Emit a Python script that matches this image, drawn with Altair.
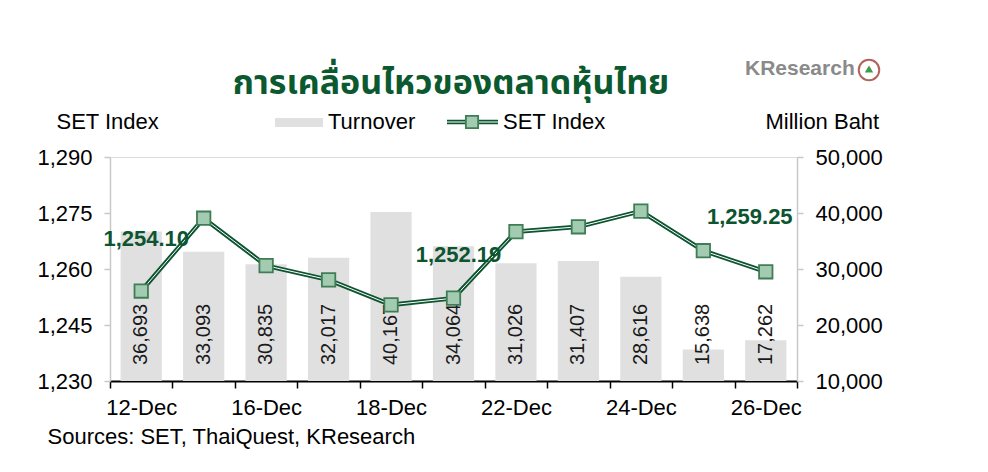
import altair as alt
import pandas as pd

# ---------------- data ----------------
dates = ["12-Dec", "13-Dec", "16-Dec", "17-Dec", "18-Dec", "19-Dec",
         "22-Dec", "23-Dec", "24-Dec", "25-Dec", "26-Dec"]
turnover = [36693, 33093, 30835, 32017, 40167, 34064, 31026, 31407, 28616, 15638, 17262]
set_index = [1254.10, 1273.6, 1260.9, 1257.1, 1250.4, 1252.19,
             1270.0, 1271.3, 1275.5, 1264.9, 1259.25]
left_ticks = [1230, 1245, 1260, 1275, 1290]
right_ticks = [10000, 20000, 30000, 40000, 50000]
shown_dates = ["12-Dec", "16-Dec", "18-Dec", "22-Dec", "24-Dec", "26-Dec"]
annot_dates = ["12-Dec", "19-Dec", "26-Dec"]
annot_text = ["1,254.10", "1,252.19", "1,259.25"]

title_text = "การเคลื่อนไหวของตลาดหุ้นไทย"
source_text = "Sources: SET, ThaiQuest, KResearch"

FONT = "Liberation Sans"
THAI_FONT = "Noto Sans Thai, Noto Sans Thai Looped, Loma, Garuda, Noto Sans, sans-serif"
DARK_GREEN = "#0d5430"
MARK_FILL = "#a3cbb2"
MARK_STROKE = "#3f7d55"
BAR_COLOR = "#e0e0e0"
AXIS_GRAY = "#c8c8c8"

df = pd.DataFrame({"date": dates, "turnover": turnover, "set": set_index})
df["tlabel"] = [f"{v:,}" for v in turnover]
df["base"] = right_ticks[0]

ann_df = pd.DataFrame({"date": annot_dates, "text": annot_text})
ann_df = ann_df.merge(df[["date", "set"]], on="date")

label_expr = "indexof([" + ",".join(f"'{d}'" for d in shown_dates) + "], datum.value) >= 0 ? datum.label : ''"

x_axis = alt.Axis(
    title=source_text, titleX=-63, titleY=55, titleAlign="left", titleBaseline="middle",
    titleFontWeight="normal", titleFontSize=22, titleFont=FONT, titleColor="black",
    labelAngle=0, labelExpr=label_expr, labelFontSize=22, labelFont=FONT, labelColor="black",
    labelPadding=9, tickBand="extent", tickColor="black", tickWidth=1.5, tickSize=7,
    domainColor="black", domainWidth=2, grid=False,
)
x_enc = alt.X("date:N", sort=dates, scale=alt.Scale(paddingInner=0, paddingOuter=0), axis=x_axis)

right_axis = alt.Axis(
    orient="right", values=right_ticks, format=",.0f", title="Million Baht",
    titleAngle=0, titleX=-32, titleY=-36, titleAlign="left", titleBaseline="middle",
    titleFontWeight="normal", titleFontSize=22, titleFont=FONT, titleColor="black",
    labelFontSize=22, labelFont=FONT, labelColor="black", labelPadding=12,
    tickColor=AXIS_GRAY, tickSize=6, tickWidth=1.5, domainColor=AXIS_GRAY, domainWidth=1.5, grid=False,
)
right_scale = alt.Scale(domain=[right_ticks[0], right_ticks[-1]], nice=False, zero=False)

left_axis = alt.Axis(
    orient="left", values=left_ticks, format=",.0f", title="SET Index",
    titleAngle=0, titleX=-54, titleY=-36, titleAlign="left", titleBaseline="middle",
    titleFontWeight="normal", titleFontSize=22, titleFont=FONT, titleColor="black",
    labelFontSize=22, labelFont=FONT, labelColor="black", labelPadding=12,
    tickColor=AXIS_GRAY, tickSize=6, tickWidth=1.5, domainColor=AXIS_GRAY, domainWidth=1.5, grid=False,
)
left_scale = alt.Scale(domain=[left_ticks[0], left_ticks[-1]], nice=False, zero=False)

base = alt.Chart(df)

bars = base.mark_bar(color=BAR_COLOR, width=alt.RelativeBandSize(0.66)).encode(
    x=x_enc, y=alt.Y("turnover:Q", scale=right_scale, axis=right_axis), y2="base:Q"
)
bar_labels = base.mark_text(angle=270, align="left", baseline="middle", dx=16,
                            font=FONT, fontSize=20, color="#1a1a1a").encode(
    x=x_enc, y=alt.Y("base:Q", scale=right_scale, axis=right_axis), text="tlabel:N"
)
bar_layer = alt.layer(bars, bar_labels)

y_left = alt.Y("set:Q", scale=left_scale, axis=left_axis)
line_outer = base.mark_line(color=DARK_GREEN, strokeWidth=4.5).encode(x=x_enc, y=y_left)
line_inner = base.mark_line(color="white", strokeWidth=1).encode(x=x_enc, y=y_left)
points = base.mark_point(shape="square", size=180, filled=True, fill=MARK_FILL,
                         stroke=MARK_STROKE, strokeWidth=1.8, opacity=1).encode(x=x_enc, y=y_left)

ann_offsets = [(5, -52), (5, -43), (-16, -55)]
ann_layers = []
for d, (ddx, ddy) in zip(annot_dates, ann_offsets):
    ann_layers.append(
        alt.Chart(ann_df).transform_filter(alt.datum.date == d).mark_text(
            font=FONT, fontSize=22, fontWeight="bold", color=DARK_GREEN, dx=ddx, dy=ddy,
            align="center", baseline="middle"
        ).encode(x=x_enc, y=y_left, text="text:N")
    )
line_layer = alt.layer(line_outer, line_inner, points, *ann_layers)

# title, legend & logo (decorations)
one = alt.Chart(pd.DataFrame({"k": [0]}))
title_mark = one.mark_text(text=title_text, align="center", baseline="middle", font=THAI_FONT,
                           fontSize=34, fontWeight="bold", color="#0b5a2f").encode(
    x=alt.value(341), y=alt.value(-73))
leg_rect = one.mark_rect(color=BAR_COLOR).encode(
    x=alt.value(165), x2=alt.value(213), y=alt.value(-39), y2=alt.value(-30))
leg_t1 = one.mark_text(text="Turnover", align="left", baseline="middle", font=FONT, fontSize=22,
                       color="black").encode(x=alt.value(218), y=alt.value(-35))
leg_line = one.mark_rule(color=DARK_GREEN, strokeWidth=4.5).encode(
    x=alt.value(337), x2=alt.value(388), y=alt.value(-35))
leg_line2 = one.mark_rule(color="white", strokeWidth=1).encode(
    x=alt.value(337), x2=alt.value(388), y=alt.value(-35))
leg_pt = one.mark_point(shape="square", size=150, filled=True, fill=MARK_FILL, stroke=MARK_STROKE,
                        strokeWidth=1.8, opacity=1).encode(x=alt.value(362), y=alt.value(-35))
leg_t2 = one.mark_text(text="SET Index", align="left", baseline="middle", font=FONT, fontSize=22,
                       color="black").encode(x=alt.value(393), y=alt.value(-35))
logo_t = one.mark_text(text="KResearch", align="left", baseline="middle", font=FONT, fontSize=21,
                       fontWeight="bold", color="#8a8a8a").encode(x=alt.value(635), y=alt.value(-88))
logo_c = one.mark_point(shape="circle", size=420, filled=False, stroke="#b0645c", strokeWidth=2,
                        opacity=1).encode(x=alt.value(759), y=alt.value(-87))
logo_leaf = one.mark_point(shape="triangle-up", size=70, filled=True, fill="#3f9b48", opacity=1).encode(
    x=alt.value(759), y=alt.value(-88))
deco = alt.layer(title_mark, leg_rect, leg_t1, leg_line, leg_line2, leg_pt, leg_t2,
                 logo_t, logo_c, logo_leaf)

chart = alt.layer(bar_layer, line_layer, deco).resolve_scale(y="independent").properties(
    width=687, height=224,
    autosize=alt.AutoSizeParams(type="none"),
    padding={"left": 102, "top": 149, "right": 170, "bottom": 70},
).configure_view(stroke=None).configure(font=FONT)

chart.save("out.html", embed_options={"renderer": "svg", "actions": False})
